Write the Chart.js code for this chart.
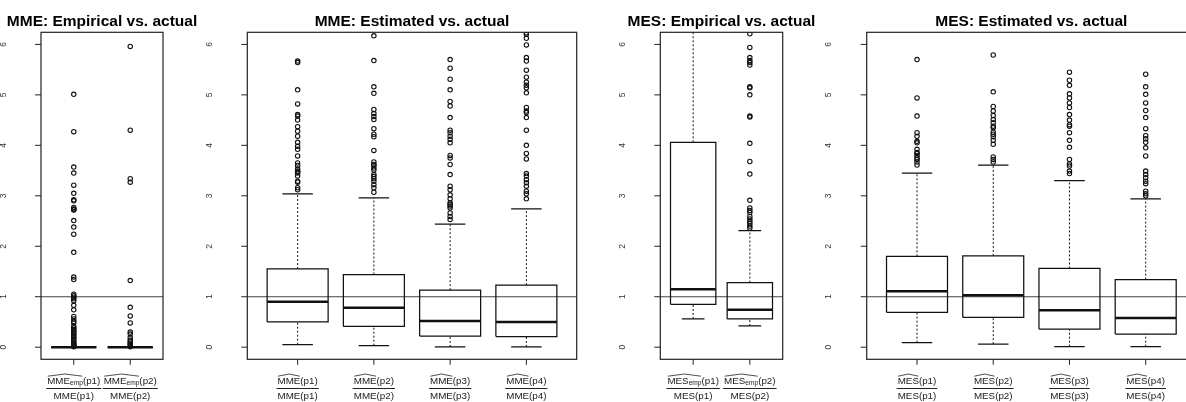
<!DOCTYPE html>
<html>
<head>
<meta charset="utf-8">
<script src="https://cdn.jsdelivr.net/npm/chart.js@4.4.0/dist/chart.umd.min.js"></script>
<style>
html, body { margin: 0; padding: 0; background: #fff; overflow: hidden; width: 1186px; height: 402px; }
.panel { position: absolute; top: 0; }
</style>
</head>
<body>
<div class="panel" style="left:0px"><canvas id="mmeEmp" width="240" height="402"></canvas></div>
<div class="panel" style="left:200px"><canvas id="mmeEst" width="420" height="402"></canvas></div>
<div class="panel" style="left:600px"><canvas id="mesEmp" width="240" height="402"></canvas></div>
<div class="panel" style="left:820px"><canvas id="mesEst" width="420" height="402"></canvas></div>
<script>
// box stats per group: [lower whisker, Q1, median, Q3, upper whisker]
const yTicks = [0, 1, 2, 3, 4, 5, 6];
const refLine = 1;

const mmeEmpArgs = ["p1", "p2"];
const mmeEmpStats = [
    [0, 0, 0, 0, 0],
    [0, 0, 0, 0, 0],
];
const mmeEmpOutliers = [
    [5.01, 4.27, 3.57, 3.45, 3.21, 3.05, 2.92, 2.90, 2.77, 2.74, 2.73, 2.72, 2.51, 2.38, 2.24, 1.88, 1.39, 1.34,
     1.05, 1.02, 0.99, 0.96, 0.92, 0.83, 0.74, 0.61, 0.56, 0.51, 0.48, 0.41, 0.38, 0.35, 0.32, 0.30, 0.27, 0.24,
     0.21, 0.18, 0.15, 0.12, 0.09, 0.07, 0.05, 0.03, 0.02, 0.01],
    [5.96, 4.30, 3.34, 3.27, 1.32, 0.79, 0.62, 0.48, 0.30, 0.26, 0.19, 0.14, 0.11, 0.08, 0.06, 0.03, 0.01],
];

const mmeEstArgs = ["p1", "p2", "p3", "p4"];
const mmeEstStats = [
    [0.05, 0.50, 0.90, 1.55, 3.04],
    [0.03, 0.41, 0.78, 1.44, 2.96],
    [0.005, 0.22, 0.52, 1.13, 2.44],
    [0.005, 0.21, 0.50, 1.23, 2.74],
];
const mmeEstOutliers = [
    [5.67, 5.64, 5.10, 4.82, 4.61, 4.58, 4.50, 4.37, 4.28, 4.18, 4.06, 3.98, 3.92, 3.79, 3.65, 3.60, 3.53, 3.49,
     3.47, 3.45, 3.39, 3.29, 3.27, 3.16, 3.12],
    [6.17, 5.68, 5.16, 5.03, 4.71, 4.63, 4.57, 4.51, 4.33, 4.22, 4.17, 3.90, 3.67, 3.62, 3.60, 3.55, 3.51, 3.42,
     3.38, 3.34, 3.29, 3.22, 3.16, 3.07],
    [5.70, 5.53, 5.31, 5.10, 4.87, 4.78, 4.55, 4.30, 4.25, 4.18, 4.12, 4.05, 3.80, 3.75, 3.62, 3.42, 3.19, 3.12,
     3.02, 2.94, 2.86, 2.83, 2.80, 2.76, 2.66, 2.59, 2.53],
    [6.23, 6.20, 6.12, 5.99, 5.74, 5.67, 5.49, 5.35, 5.25, 5.19, 5.14, 5.04, 4.75, 4.68, 4.65, 4.55, 4.30, 4.00,
     3.84, 3.73, 3.44, 3.39, 3.32, 3.26, 3.19, 3.09, 3.04, 2.94],
];

const mesEmpArgs = ["p1", "p2"];
const mesEmpStats = [
    [0.56, 0.85, 1.15, 4.06, 7.8],
    [0.42, 0.56, 0.74, 1.28, 2.31],
];
const mesEmpOutliers = [
    [],
    [6.21, 5.94, 5.74, 5.68, 5.64, 5.59, 5.16, 5.14, 5.00, 4.58, 4.56, 4.04, 3.68, 3.43, 2.91, 2.76, 2.71, 2.67,
     2.59, 2.54, 2.49, 2.45, 2.40, 2.36],
];

const mesEstArgs = ["p1", "p2", "p3", "p4"];
const mesEstStats = [
    [0.09, 0.69, 1.11, 1.80, 3.45],
    [0.06, 0.59, 1.03, 1.81, 3.61],
    [0.01, 0.36, 0.73, 1.56, 3.30],
    [0.01, 0.26, 0.58, 1.34, 2.94],
];
const mesEstOutliers = [
    [5.70, 4.94, 4.58, 4.25, 4.18, 4.08, 4.05, 3.92, 3.86, 3.84, 3.80, 3.75, 3.72, 3.67, 3.61],
    [5.79, 5.06, 4.77, 4.68, 4.59, 4.51, 4.45, 4.38, 4.35, 4.26, 4.22, 4.17, 4.10, 4.02, 3.77, 3.72, 3.67],
    [5.45, 5.29, 5.19, 5.02, 4.94, 4.84, 4.75, 4.61, 4.50, 4.41, 4.38, 4.25, 4.10, 3.96, 3.72, 3.63, 3.59, 3.49, 3.44],
    [5.41, 5.16, 5.01, 4.84, 4.69, 4.55, 4.33, 4.19, 4.13, 4.06, 3.95, 3.79, 3.49, 3.42, 3.36, 3.29, 3.24, 3.09,
     3.04, 3.00],
];

const FONT = '"Liberation Sans", Arial, sans-serif';
const INK = "#111";

function strokeLine(ctx, x0, y0, x1, y1) {
    ctx.beginPath();
    ctx.moveTo(x0, y0);
    ctx.lineTo(x1, y1);
    ctx.stroke();
}

// plotmath-like label: widehat(base[sub])(arg) over base(arg)
function drawFrac(ctx, cx, base, sub, arg) {
    const big = "9.8px " + FONT, small = "6.6px " + FONT;
    const argText = "(" + arg + ")";
    const den = base + argText;
    ctx.font = big;
    const wBase = ctx.measureText(base).width;
    const wArg = ctx.measureText(argText).width;
    const wDen = ctx.measureText(den).width;
    ctx.font = small;
    const wSub = sub ? ctx.measureText(sub).width : 0;
    const wNum = wBase + wSub + wArg;

    let x = cx - wNum / 2;
    ctx.fillStyle = "#222";
    ctx.textAlign = "left";
    ctx.textBaseline = "alphabetic";
    ctx.font = big;
    ctx.fillText(base, x, 383.7);

    const h0 = x + 0.5, h1 = x + wBase + wSub - 0.5;
    ctx.lineWidth = 0.8;
    ctx.beginPath();
    ctx.moveTo(h0, 376.2);
    ctx.lineTo((h0 + h1) / 2, 374);
    ctx.lineTo(h1, 376.2);
    ctx.stroke();

    x += wBase;
    if (sub) {
        ctx.font = small;
        ctx.fillText(sub, x, 385);
        x += wSub;
    }
    ctx.font = big;
    ctx.fillText(argText, x, 383.7);

    const wBar = Math.max(wNum, wDen) + 2;
    ctx.lineWidth = 1;
    strokeLine(ctx, cx - wBar / 2, 388.5, cx + wBar / 2, 388.5);
    ctx.textAlign = "center";
    ctx.fillText(den, cx, 398.5);
}

const rFrame = {
    id: "rFrame",
    afterDraw(chart, args, opts) {
        const ctx = chart.ctx, a = chart.chartArea;
        const xs = chart.scales.x, ys = chart.scales.y;
        ctx.save();
        ctx.strokeStyle = "#222";
        ctx.fillStyle = INK;
        ctx.lineWidth = 1.2;
        ctx.strokeRect(a.left, a.top, a.right - a.left, a.bottom - a.top);

        ctx.lineWidth = 1;
        ctx.font = "8.5px " + FONT;
        yTicks.forEach((v) => {
            const py = ys.getPixelForValue(v);
            strokeLine(ctx, a.left - 6, py, a.left, py);
            ctx.save();
            ctx.fillStyle = "#333";
            ctx.translate(a.left - 37.6, py);
            ctx.rotate(-Math.PI / 2);
            ctx.textAlign = "center";
            ctx.textBaseline = "middle";
            ctx.fillText(String(v), 0, 0);
            ctx.restore();
        });

        opts.args.forEach((arg, i) => {
            const px = xs.getPixelForValue(i + 1);
            ctx.lineWidth = 1;
            strokeLine(ctx, px, a.bottom, px, a.bottom + 5.5);
            drawFrac(ctx, px, opts.base, opts.sub, arg);
        });

        ctx.font = "bold 15.5px " + FONT;
        ctx.fillStyle = "#000";
        ctx.textAlign = "center";
        ctx.textBaseline = "alphabetic";
        ctx.fillText(opts.title, (a.left + a.right) / 2, 25.5);
        ctx.restore();
    },
};

function boxDatasets(stats, outliers, xMin, xMax) {
    const ds = [];
    const seg = (pts, extra) => ds.push(Object.assign({
        type: "line", data: pts, borderColor: INK, borderWidth: 1.25,
        pointRadius: 0, fill: false, tension: 0,
    }, extra));

    stats.forEach((s, i) => {
        const x = i + 1;
        const [lo, q1, med, q3, hi] = s;
        seg([{ x: x, y: q3 }, { x: x, y: hi }], { borderDash: [2, 2], borderWidth: 1 });
        seg([{ x: x, y: lo }, { x: x, y: q1 }], { borderDash: [2, 2], borderWidth: 1 });
        seg([{ x: x - 0.2, y: hi }, { x: x + 0.2, y: hi }]);
        seg([{ x: x - 0.2, y: lo }, { x: x + 0.2, y: lo }]);
        seg([{ x: x - 0.4, y: q1 }, { x: x + 0.4, y: q1 }, { x: x + 0.4, y: q3 },
             { x: x - 0.4, y: q3 }, { x: x - 0.4, y: q1 }]);
        seg([{ x: x - 0.4, y: med }, { x: x + 0.4, y: med }], { borderWidth: 2.5 });
        ds.push({
            type: "scatter",
            data: outliers[i].map((v) => ({ x: x, y: v })),
            pointStyle: "circle", pointRadius: 2.2, borderWidth: 1.1,
            borderColor: INK, backgroundColor: "rgba(0,0,0,0)",
        });
    });
    seg([{ x: xMin, y: refLine }, { x: xMax, y: refLine }], { borderColor: "#444", borderWidth: 1.1 });
    return ds;
}

function renderPanel(id, stats, outliers, args, base, sub, title, padLeft, padRight) {
    const n = stats.length;
    const xMin = 0.5 - 0.04 * n, xMax = n + 0.5 + 0.04 * n;
    return new Chart(document.getElementById(id), {
        type: "line",
        data: { datasets: boxDatasets(stats, outliers, xMin, xMax) },
        options: {
            responsive: false,
            animation: false,
            events: [],
            layout: { padding: { left: padLeft, right: padRight, top: 32.3, bottom: 42.7 } },
            scales: {
                x: { type: "linear", min: xMin, max: xMax, display: false },
                y: { type: "linear", min: -0.24, max: 6.24, display: false },
            },
            plugins: {
                legend: { display: false },
                tooltip: { enabled: false },
                rFrame: { title: title, args: args, base: base, sub: sub },
            },
        },
        plugins: [rFrame],
    });
}

renderPanel("mmeEmp", mmeEmpStats, mmeEmpOutliers, mmeEmpArgs, "MME", "emp", "MME: Empirical vs. actual", 41, 77);
renderPanel("mmeEst", mmeEstStats, mmeEstOutliers, mmeEstArgs, "MME", "", "MME: Estimated vs. actual", 47.3, 43.3);
renderPanel("mesEmp", mesEmpStats, mesEmpOutliers, mesEmpArgs, "MES", "emp", "MES: Empirical vs. actual", 60.3, 57.3);
renderPanel("mesEst", mesEstStats, mesEstOutliers, mesEstArgs, "MES", "", "MES: Estimated vs. actual", 46.7, 44);
</script>
</body>
</html>
